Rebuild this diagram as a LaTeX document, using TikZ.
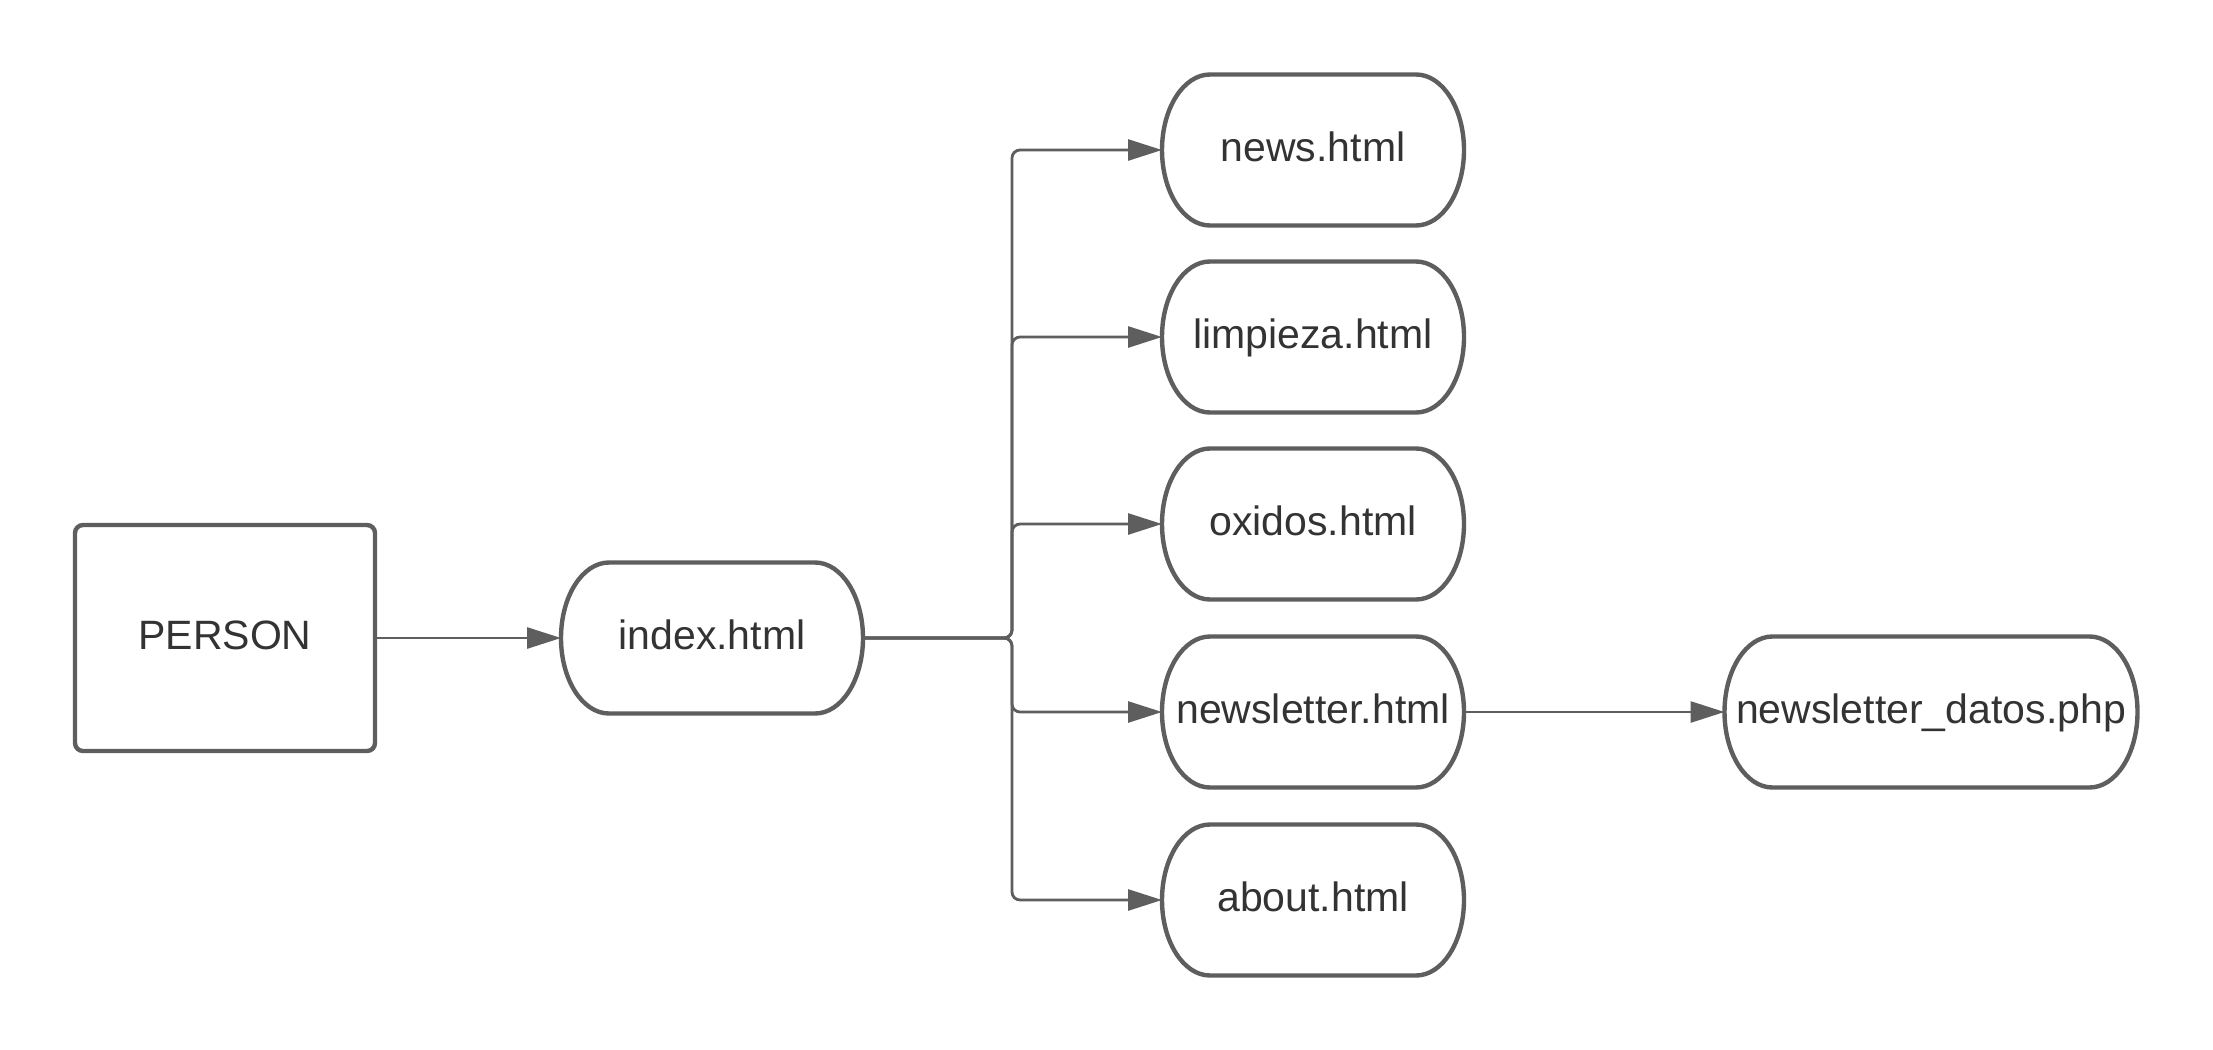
\documentclass[tikz,border=0pt]{standalone}
\usepackage{fontspec}
\setmainfont{Liberation Sans}
\usepackage{tikz}
\usetikzlibrary{arrows.meta}
\definecolor{linegray}{HTML}{5E5E5E}
\definecolor{textgray}{HTML}{333333}

\begin{document}
\begin{tikzpicture}[x=0.5pt,y=-0.5pt,
    label_text/.style={text=textgray,font=\fontsize{20.5}{24}\selectfont,text height=15pt,text depth=4pt},
    person_node/.style={label_text,draw=linegray,line width=2.2pt,rounded corners=4pt,minimum width=150pt,minimum height=113pt,inner sep=0pt},
    page_node/.style={label_text,minimum width=151pt,minimum height=75.5pt,inner sep=0pt,outer sep=0pt},
    border/.style={draw=linegray,line width=2.2pt},
    link/.style={draw=linegray,line width=1.4pt,-{Triangle[length=17pt,width=10.5pt]}}]
    \useasboundingbox (0,0) rectangle (2213,1050);

    \node[person_node] (person) at (225,638) {PERSON};
    \node[page_node] (index) at (712,638) {index.html};
    \node[page_node] (news) at (1313,150) {news.html};
    \node[page_node] (limpieza) at (1313,337) {limpieza.html};
    \node[page_node] (oxidos) at (1313,524) {oxidos.html};
    \node[page_node] (newsletter) at (1313,712) {newsletter.html};
    \node[page_node] (about) at (1313,900) {about.html};
    \node[page_node,minimum width=206.5pt] (datos) at (1931,712) {newsletter\_datos.php};

    % page outlines with oval ends
    \foreach \n in {index,news,limpieza,oxidos,newsletter,about,datos}
        \draw[border] ([xshift=24pt]\n.north west) -- ([xshift=-24pt]\n.north east)
            arc[start angle=90,end angle=-90,x radius=24pt,y radius=37.75pt]
            -- ([xshift=24pt]\n.south west)
            arc[start angle=270,end angle=90,x radius=24pt,y radius=37.75pt] -- cycle;

    \coordinate (split) at (1012,638);

    \draw[link] (person.east) -- (index.west);
    \foreach \n in {news,limpieza,oxidos,newsletter,about}
        \draw[link,rounded corners=4pt] (index.east) -- (split) |- (\n.west);
    \draw[link] (newsletter.east) -- (datos.west);
\end{tikzpicture}
\end{document}
